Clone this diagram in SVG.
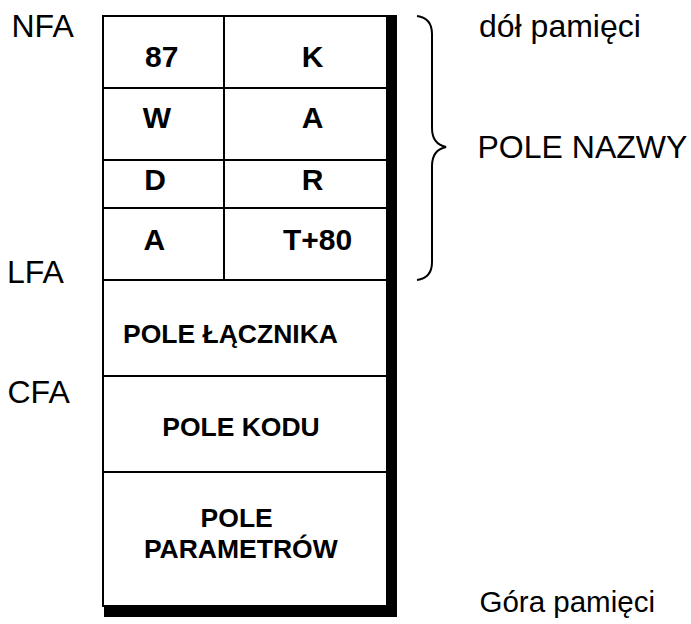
<svg xmlns="http://www.w3.org/2000/svg" width="691" height="624" viewBox="0 0 691 624">
<style>
.ln{stroke:#000;stroke-width:2;fill:none}
.c{font-family:"Liberation Sans",Arial,sans-serif;font-weight:bold;font-size:30px;text-anchor:middle;fill:#000}
.p{font-family:"Liberation Sans",Arial,sans-serif;font-weight:bold;font-size:26.5px;text-anchor:middle;fill:#000}
.l{font-family:"Liberation Sans",Arial,sans-serif;font-size:32px;fill:#000}
</style>
<rect width="691" height="624" fill="#fff"/>
<g id="table">
<rect class="ln" x="103" y="16" width="284" height="590"/>
<rect x="387" y="15" width="10" height="602" fill="#000"/>
<rect x="104" y="607" width="293" height="10" fill="#000"/>
<line class="ln" x1="224" y1="16" x2="224" y2="280"/>
<line class="ln" x1="103" y1="88" x2="387" y2="88"/>
<line class="ln" x1="103" y1="160" x2="387" y2="160"/>
<line class="ln" x1="103" y1="208" x2="387" y2="208"/>
<line class="ln" x1="103" y1="280" x2="387" y2="280"/>
<line class="ln" x1="103" y1="376" x2="387" y2="376"/>
<line class="ln" x1="103" y1="472" x2="387" y2="472"/>
</g>
<g id="cells">
<text class="c" x="161.7" y="67">87</text>
<text class="c" x="312.5" y="67">K</text>
<text class="c" x="157" y="128">W</text>
<text class="c" x="312.5" y="128">A</text>
<text class="c" x="155" y="190">D</text>
<text class="c" x="312.5" y="190">R</text>
<text class="c" x="154.3" y="250">A</text>
<text class="c" x="317.5" y="250">T+80</text>
</g>
<g id="fields">
<text class="p" x="230.5" y="343">POLE ŁĄCZNIKA</text>
<text class="p" x="241" y="436">POLE KODU</text>
<text class="p" x="236.7" y="527">POLE</text>
<text class="p" x="240.8" y="558">PARAMETRÓW</text>
</g>
<g id="labels">
<text class="l" x="11.5" y="37">NFA</text>
<text class="l" x="7" y="283">LFA</text>
<text class="l" x="7.5" y="403">CFA</text>
<text class="l" x="479" y="37">dół pamięci</text>
<text class="l" x="477.5" y="158">POLE NAZWY</text>
<text class="l" x="479.5" y="612" style="font-size:29.5px">Góra pamięci</text>
</g>
<g id="connectors">
<path class="ln" d="M417,16 Q432,18 432,34 L432,128 Q432,144 446,147 Q432,150 432,166 L432,262 Q432,278 417,280"/>
</g>
</svg>
